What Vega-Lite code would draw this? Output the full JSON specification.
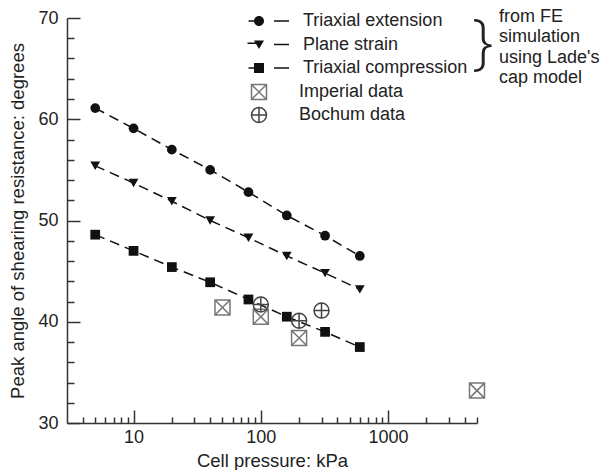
{
  "$schema": "https://vega.github.io/schema/vega-lite/v6.json",
  "width": 410,
  "height": 405,
  "autosize": "none",
  "padding": {"left": 67, "top": 18, "right": 128, "bottom": 47},
  "background": "white",
  "title": {
    "text": ["from FE", "simulation", "using Lade's", "cap model"],
    "orient": "top",
    "frame": "group",
    "anchor": "end",
    "align": "left",
    "baseline": "top",
    "fontSize": 18,
    "fontWeight": "normal",
    "font": "Liberation Sans",
    "color": "#222",
    "lineHeight": 20.5,
    "offset": 0,
    "dx": 22,
    "dy": 78
  },
  "config": {
    "view": {"stroke": null},
    "font": "Liberation Sans",
    "axis": {
      "domainColor": "#333",
      "domainWidth": 1.5,
      "tickColor": "#333",
      "tickWidth": 1.5,
      "labelColor": "#222",
      "labelFontSize": 18,
      "titleFontSize": 18.5,
      "titleFontWeight": "normal",
      "titleColor": "#222",
      "grid": false
    },
    "legend": {
      "labelFontSize": 18,
      "labelColor": "#222",
      "labelFont": "Liberation Sans",
      "labelFontWeight": "normal",
      "labelLimit": 400
    }
  },
  "datasets": {
    "pts": [
      {"series": "Triaxial extension", "p": 5, "phi": 61.1},
      {"series": "Triaxial extension", "p": 10, "phi": 59.1},
      {"series": "Triaxial extension", "p": 20, "phi": 57.0},
      {"series": "Triaxial extension", "p": 40, "phi": 55.0},
      {"series": "Triaxial extension", "p": 80, "phi": 52.8},
      {"series": "Triaxial extension", "p": 160, "phi": 50.5},
      {"series": "Triaxial extension", "p": 320, "phi": 48.5},
      {"series": "Triaxial extension", "p": 600, "phi": 46.5},
      {"series": "Plane strain", "p": 5, "phi": 55.4},
      {"series": "Plane strain", "p": 10, "phi": 53.7},
      {"series": "Plane strain", "p": 20, "phi": 51.9},
      {"series": "Plane strain", "p": 40, "phi": 50.0},
      {"series": "Plane strain", "p": 80, "phi": 48.3},
      {"series": "Plane strain", "p": 160, "phi": 46.5},
      {"series": "Plane strain", "p": 320, "phi": 44.8},
      {"series": "Plane strain", "p": 600, "phi": 43.2},
      {"series": "Triaxial compression", "p": 5, "phi": 48.6},
      {"series": "Triaxial compression", "p": 10, "phi": 47.0},
      {"series": "Triaxial compression", "p": 20, "phi": 45.4},
      {"series": "Triaxial compression", "p": 40, "phi": 43.9},
      {"series": "Triaxial compression", "p": 80, "phi": 42.2},
      {"series": "Triaxial compression", "p": 160, "phi": 40.5},
      {"series": "Triaxial compression", "p": 320, "phi": 39.0},
      {"series": "Triaxial compression", "p": 600, "phi": 37.5}
    ],
    "exp": [
      {"series": "Imperial data", "p": 50, "phi": 41.4},
      {"series": "Imperial data", "p": 100, "phi": 40.5},
      {"series": "Imperial data", "p": 200, "phi": 38.4},
      {"series": "Imperial data", "p": 5000, "phi": 33.2},
      {"series": "Bochum data", "p": 100, "phi": 41.7},
      {"series": "Bochum data", "p": 200, "phi": 40.1},
      {"series": "Bochum data", "p": 300, "phi": 41.1}
    ]
  },
  "encoding": {
    "x": {
      "field": "p",
      "type": "quantitative",
      "scale": {"type": "log", "domain": [3, 5000], "nice": false},
      "axis": {
        "title": "Cell pressure: kPa",
        "titlePadding": -2,
        "values": [4,5,6,7,8,9,10,20,30,40,50,60,70,80,90,100,200,300,400,500,600,700,800,900,1000,2000,3000,4000,5000],
        "labelExpr": "(datum.value == 10 || datum.value == 100 || datum.value == 1000) ? format(datum.value, 'd') : ''",
        "tickSize": {"condition": {"test": "datum.value == 10 || datum.value == 100 || datum.value == 1000", "value": -13}, "value": -6},
        "labelPadding": 18,
        "labelFlush": false,
        "labelOverlap": false
      }
    },
    "y": {
      "field": "phi",
      "type": "quantitative",
      "scale": {"domain": [30, 70], "nice": false, "zero": false},
      "axis": {
        "title": "Peak angle of shearing resistance: degrees",
        "titlePadding": 10,
        "values": [30,32,34,36,38,40,42,44,46,48,50,52,54,56,58,60,62,64,66,68,70],
        "labelExpr": "datum.value % 10 == 0 ? datum.label : ''",
        "tickSize": {"condition": {"test": "datum.value % 10 == 0", "value": -13}, "value": -7},
        "labelPadding": 22,
        "labelOverlap": false
      }
    }
  },
  "layer": [
    {
      "data": {"name": "pts"},
      "mark": {"type": "line", "color": "#111", "strokeWidth": 1.5, "strokeDash": [10, 6]},
      "encoding": {"detail": {"field": "series"}}
    },
    {
      "data": {"name": "pts"},
      "mark": {"type": "point", "filled": true, "color": "#111", "opacity": 1, "size": 95},
      "encoding": {
        "shape": {
          "field": "series",
          "type": "nominal",
          "scale": {"domain": ["Triaxial extension", "Plane strain", "Triaxial compression"], "range": ["circle", "triangle-down", "square"]},
          "legend": null
        }
      }
    },
    {
      "data": {"name": "pts"},
      "mark": {"type": "point", "filled": true, "color": "#111", "opacity": 0, "size": 100},
      "encoding": {
        "shape": {
          "field": "series",
          "type": "nominal",
          "scale": {"domain": ["Triaxial extension", "Plane strain", "Triaxial compression"], "range": ["M-2.1,-0.15L-1,-0.15L-1,0.15L-2.1,0.15ZM-1,0A1,1 0 1,1 1,0A1,1 0 1,1 -1,0ZM3,-0.15L6,-0.15L6,0.15L3,0.15Z", "M-2.3,-0.4L-0.6,-0.4L-0.6,-0.1L-2.3,-0.1ZM-1,-0.8L1,-0.8L0,0.9ZM3,-0.15L6,-0.15L6,0.15L3,0.15Z", "M-2.1,-0.15L-1,-0.15L-1,0.15L-2.1,0.15ZM-1,-1L1,-1L1,1L-1,1ZM3,-0.15L6,-0.15L6,0.15L3,0.15Z"]},
          "legend": {
            "title": "}",
            "titleOrient": "right",
            "titleAnchor": "middle",
            "titleBaseline": "middle",
            "titleFontSize": 60,
            "titleFont": "Open Sans",
            "titleFontWeight": 300,
            "titleColor": "#222",
            "titlePadding": 5,
            "orient": "none",
            "legendX": 183,
            "legendY": -6,
            "symbolSize": 100,
            "symbolOpacity": 1,
            "symbolFillColor": "#111",
            "labelOffset": 35,
            "rowPadding": 5.5
          }
        }
      }
    },
    {
      "data": {"name": "exp"},
      "mark": {"type": "point", "filled": false, "strokeWidth": 1.5, "opacity": 1, "size": 225, "fill": "transparent"},
      "encoding": {
        "shape": {
          "field": "series",
          "type": "nominal",
          "scale": {"domain": ["Imperial data", "Bochum data"], "range": ["M-1,-1L1,-1L1,1L-1,1ZM-1,-1L1,1M1,-1L-1,1", "M-1,0A1,1 0 1,1 1,0A1,1 0 1,1 -1,0ZM-1,0L1,0M0,-1L0,1"]},
          "legend": {
            "title": null,
            "orient": "none",
            "legendX": 183,
            "legendY": 65,
            "symbolSize": 225,
            "symbolStrokeWidth": 1.5,
            "labelOffset": 31,
            "rowPadding": 1
          }
        },
        "stroke": {
          "field": "series",
          "type": "nominal",
          "scale": {"domain": ["Imperial data", "Bochum data"], "range": ["#777", "#444"]},
          "legend": {
            "title": null,
            "orient": "none",
            "legendX": 183,
            "legendY": 65,
            "symbolSize": 225,
            "symbolStrokeWidth": 1.5,
            "labelOffset": 31,
            "rowPadding": 1
          }
        }
      }
    }
  ],
  "resolve": {
    "scale": {"shape": "independent", "stroke": "independent"},
    "legend": {"shape": "independent", "stroke": "independent"}
  }
}
